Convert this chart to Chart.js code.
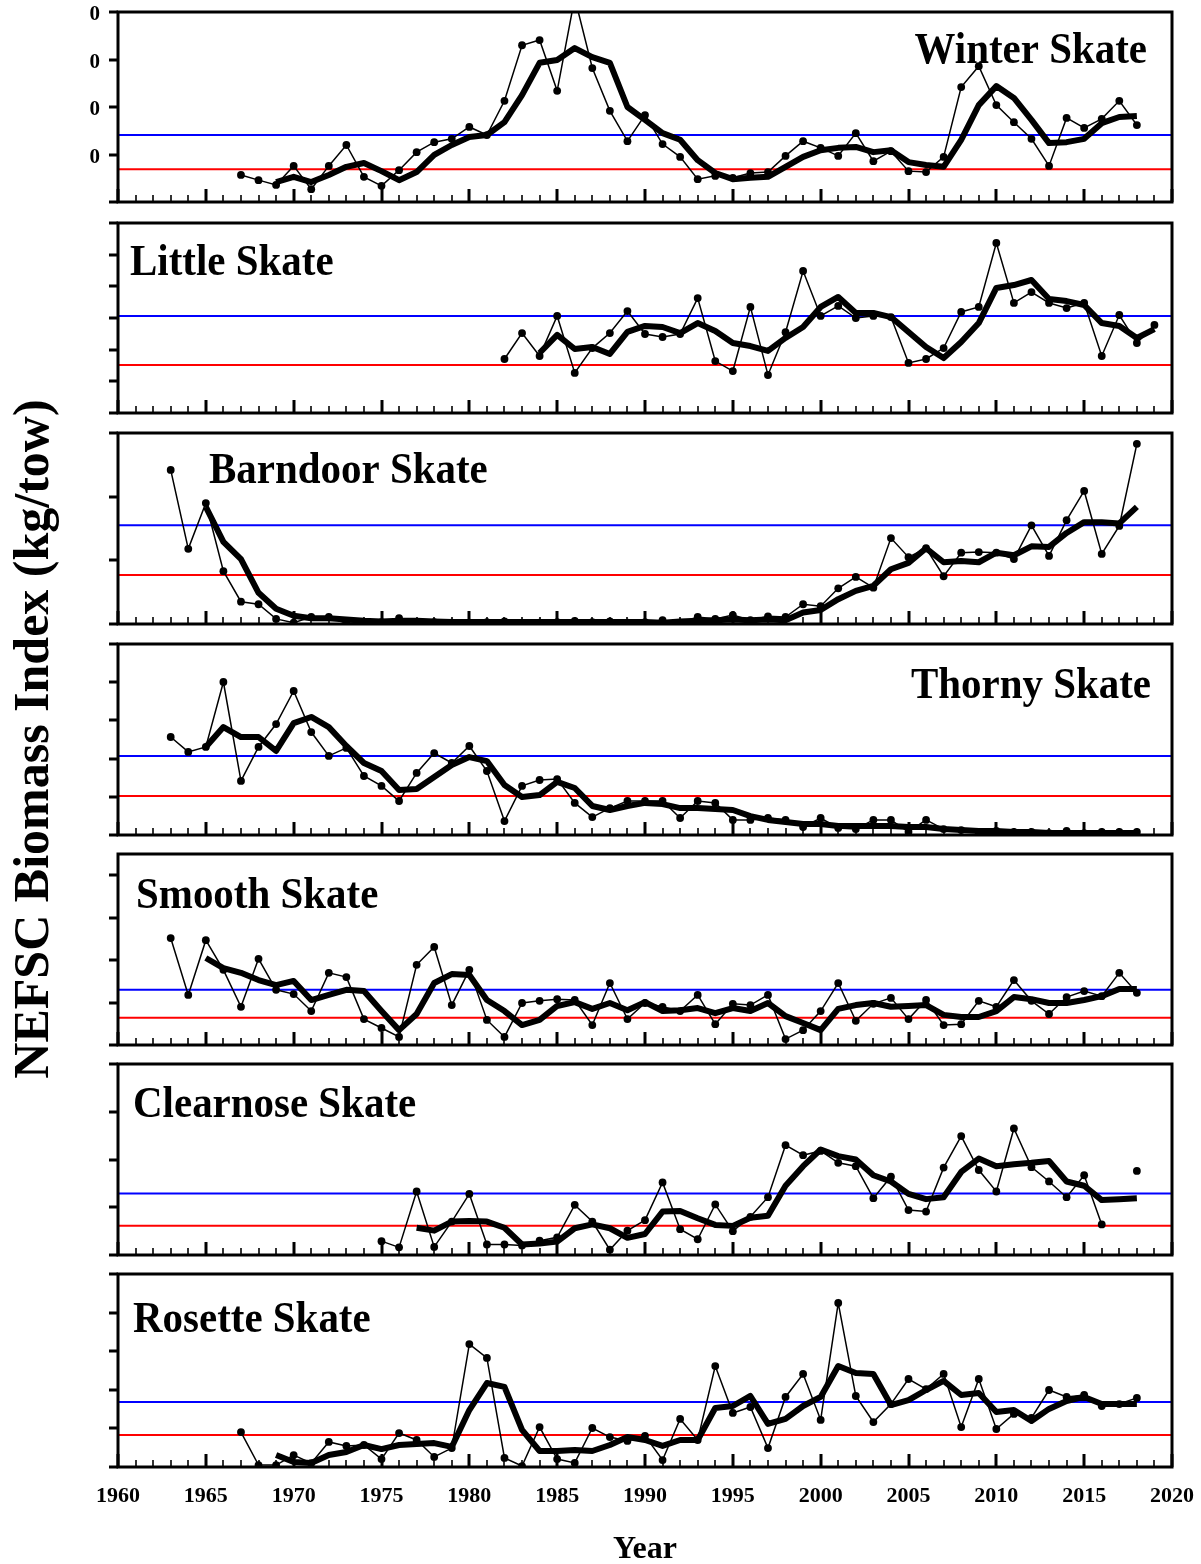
<!DOCTYPE html>
<html>
<head>
<meta charset="utf-8">
<title>NEFSC skate biomass indices</title>
<script src="https://cdn.jsdelivr.net/npm/chart.js@4.4.1/dist/chart.umd.min.js"></script>
<style>
  html, body { margin: 0; padding: 0; background: #fff; }
  #page { position: relative; width: 1201px; height: 1564px; overflow: hidden; background: #fff; }
  #page canvas { position: absolute; left: 0; }
  #ytitle {
    position: absolute; left: 31px; top: 739px;
    transform: translate(-50%, -50%) rotate(-90deg);
    font: bold 50px "Liberation Serif", "Times New Roman", serif;
    white-space: nowrap; color: #000;
  }
</style>
</head>
<body>
<div id="page">
  <div id="ytitle">NEFSC Biomass Index (kg/tow)</div>
</div>
<script>
// Survey years shared by every series (1963-2019)
const years = [
  1963, 1964, 1965, 1966, 1967, 1968, 1969,
  1970, 1971, 1972, 1973, 1974, 1975, 1976, 1977, 1978, 1979,
  1980, 1981, 1982, 1983, 1984, 1985, 1986, 1987, 1988, 1989,
  1990, 1991, 1992, 1993, 1994, 1995, 1996, 1997, 1998, 1999,
  2000, 2001, 2002, 2003, 2004, 2005, 2006, 2007, 2008, 2009,
  2010, 2011, 2012, 2013, 2014, 2015, 2016, 2017, 2018, 2019
];

const speciesNames = ['Winter Skate', 'Little Skate', 'Barndoor Skate', 'Thorny Skate',
                      'Smooth Skate', 'Clearnose Skate', 'Rosette Skate'];

// Annual index (thin line with dots) and 3-year moving average (thick line), kg/tow
const winterIndex = [
  null, null, null, null, 5.7, 4.6, 3.6,
  7.6, 2.7, 7.6, 12.0, 5.3, 3.4, 6.7, 10.5, 12.6, 13.3,
  15.8, 14.1, 21.3, 33.0, 34.1, 23.4, 43.0, 28.2, 19.2, 12.8,
  18.3, 12.2, 9.5, 4.8, 5.5, 5.1, 6.1, 6.3, 9.7, 12.8,
  11.4, 9.7, 14.5, 8.6, 10.7, 6.5, 6.3, 9.5, 24.2, 28.6,
  20.4, 16.8, 13.3, 7.6, 17.7, 15.6, 17.5, 21.3, 16.2, null
];
const winterMean = [
  null, null, null, null, null, null, 4.2,
  5.3, 4.2, 5.7, 7.4, 8.2, 6.5, 4.6, 6.3, 9.9, 12.0,
  13.7, 14.1, 16.8, 22.5, 29.3, 29.9, 32.4, 30.5, 29.3, 20.0,
  17.3, 14.5, 13.1, 8.8, 6.1, 4.8, 5.1, 5.3, 7.4, 9.5,
  10.9, 11.4, 11.6, 10.5, 10.9, 8.4, 7.8, 7.4, 13.1, 20.4,
  24.4, 21.9, 17.3, 12.4, 12.6, 13.3, 16.6, 17.9, 18.1, null
];

const littleIndex = [
  null, null, null, null, null, null, null,
  null, null, null, null, null, null, null, null, null, null,
  null, null, 3.41, 5.05, 3.60, 6.13, 2.53, 4.10, 5.05, 6.44,
  4.99, 4.80, 4.99, 7.26, 3.28, 2.65, 6.70, 2.40, 5.10, 8.97,
  6.13, 6.76, 6.00, 6.13, 6.06, 3.16, 3.41, 4.10, 6.38, 6.70,
  10.74, 6.95, 7.64, 6.95, 6.63, 6.95, 3.60, 6.19, 4.42, 5.56
];
const littleMean = [
  null, null, null, null, null, null, null,
  null, null, null, null, null, null, null, null, null, null,
  null, null, null, null, 3.79, 4.93, 4.04, 4.17, 3.73, 5.12,
  5.50, 5.43, 5.05, 5.68, 5.18, 4.42, 4.23, 3.92, 4.74, 5.43,
  6.70, 7.33, 6.32, 6.32, 6.06, 5.12, 4.17, 3.47, 4.48, 5.68,
  7.90, 8.08, 8.40, 7.20, 7.07, 6.82, 5.68, 5.50, 4.74, 5.30
];

const barndoorIndex = [
  2.42, 1.18, 1.90, 0.83, 0.35, 0.31, 0.08,
  0.02, 0.11, 0.11, 0.01, 0.01, 0.03, 0.09, 0.03, 0.03, 0.02,
  0.02, 0.03, 0.04, 0.01, 0.02, 0.03, 0.05, 0.03, 0.04, 0.02,
  0.03, 0.06, 0.02, 0.11, 0.08, 0.14, 0.06, 0.12, 0.11, 0.31,
  0.28, 0.56, 0.74, 0.57, 1.35, 1.05, 1.19, 0.75, 1.12, 1.13,
  1.12, 1.02, 1.55, 1.07, 1.63, 2.09, 1.10, 1.54, 2.83, null
];
const barndoorMean = [
  null, null, 1.84, 1.29, 1.02, 0.49, 0.24,
  0.13, 0.09, 0.09, 0.07, 0.05, 0.04, 0.05, 0.05, 0.04, 0.03,
  0.03, 0.03, 0.03, 0.03, 0.03, 0.03, 0.03, 0.03, 0.03, 0.03,
  0.03, 0.02, 0.04, 0.05, 0.06, 0.07, 0.06, 0.07, 0.06, 0.18,
  0.22, 0.39, 0.52, 0.60, 0.86, 0.96, 1.19, 0.97, 0.99, 0.97,
  1.12, 1.08, 1.22, 1.21, 1.43, 1.60, 1.60, 1.58, 1.84, null
];

const thornyIndex = [
  5.13, 4.35, 4.61, 8.01, 2.83, 4.61, 5.81,
  7.54, 5.39, 4.14, 4.56, 3.09, 2.57, 1.78, 3.25, 4.29, 3.77,
  4.66, 3.35, 0.73, 2.57, 2.88, 2.93, 1.68, 0.94, 1.41, 1.78,
  1.78, 1.78, 0.89, 1.78, 1.68, 0.79, 0.79, 0.89, 0.79, 0.42,
  0.89, 0.37, 0.31, 0.79, 0.79, 0.16, 0.79, 0.31, 0.26, 0.10,
  0.21, 0.16, 0.16, 0.10, 0.21, 0.10, 0.16, 0.16, 0.16, null
];
const thornyMean = [
  null, null, 4.61, 5.65, 5.13, 5.13, 4.40,
  5.86, 6.18, 5.65, 4.66, 3.77, 3.35, 2.36, 2.41, 3.04, 3.67,
  4.08, 3.87, 2.62, 1.99, 2.09, 2.78, 2.46, 1.52, 1.31, 1.52,
  1.68, 1.62, 1.41, 1.41, 1.36, 1.31, 0.99, 0.79, 0.68, 0.58,
  0.58, 0.47, 0.47, 0.47, 0.47, 0.42, 0.42, 0.31, 0.26, 0.21,
  0.21, 0.16, 0.16, 0.10, 0.10, 0.10, 0.10, 0.10, 0.10, null
];

const smoothIndex = [
  0.252, 0.118, 0.247, 0.177, 0.090, 0.203, 0.130,
  0.120, 0.080, 0.170, 0.160, 0.061, 0.040, 0.019, 0.189, 0.231, 0.094,
  0.177, 0.059, 0.019, 0.099, 0.104, 0.108, 0.106, 0.047, 0.146, 0.061,
  0.099, 0.090, 0.080, 0.118, 0.049, 0.097, 0.094, 0.118, 0.014, 0.035,
  0.080, 0.146, 0.057, 0.097, 0.111, 0.061, 0.106, 0.047, 0.049, 0.104,
  0.090, 0.153, 0.104, 0.073, 0.113, 0.127, 0.115, 0.170, 0.123, null
];
const smoothMean = [
  null, null, 0.205, 0.181, 0.170, 0.153, 0.141,
  0.151, 0.106, 0.118, 0.130, 0.127, 0.080, 0.035, 0.073, 0.146, 0.167,
  0.165, 0.106, 0.080, 0.047, 0.059, 0.092, 0.101, 0.085, 0.099, 0.082,
  0.101, 0.080, 0.082, 0.087, 0.075, 0.087, 0.080, 0.099, 0.068, 0.052,
  0.035, 0.085, 0.094, 0.099, 0.090, 0.092, 0.094, 0.071, 0.066, 0.066,
  0.080, 0.113, 0.108, 0.099, 0.099, 0.106, 0.115, 0.132, 0.132, null
];

const clearnoseIndex = [
  null, null, null, null, null, null, null,
  null, null, null, null, null, 0.29, 0.16, 1.33, 0.17, 0.70,
  1.28, 0.22, 0.22, 0.20, 0.30, 0.37, 1.05, 0.70, 0.11, 0.51,
  0.73, 1.52, 0.54, 0.33, 1.06, 0.50, 0.80, 1.21, 2.30, 2.09,
  2.18, 1.93, 1.86, 1.19, 1.64, 0.94, 0.91, 1.83, 2.49, 1.78,
  1.33, 2.65, 1.84, 1.54, 1.21, 1.67, 0.64, null, 1.76, null
];
const clearnoseMean = [
  null, null, null, null, null, null, null,
  null, null, null, null, null, null, null, 0.57, 0.51, 0.70,
  0.71, 0.70, 0.57, 0.22, 0.24, 0.28, 0.56, 0.64, 0.56, 0.36,
  0.44, 0.91, 0.92, 0.77, 0.63, 0.61, 0.78, 0.82, 1.45, 1.86,
  2.21, 2.07, 2.00, 1.67, 1.54, 1.28, 1.17, 1.21, 1.74, 2.02,
  1.86, 1.90, 1.93, 1.97, 1.54, 1.45, 1.15, 1.17, 1.19, null
];

const rosetteIndex = [
  null, null, null, null, 0.0181, 0.0010, 0.0010,
  0.0062, 0.0020, 0.0130, 0.0109, 0.0114, 0.0041, 0.0176, 0.0140, 0.0052, 0.0098,
  0.0637, 0.0565, 0.0047, 0.0005, 0.0207, 0.0041, 0.0021, 0.0202, 0.0155, 0.0135,
  0.0161, 0.0036, 0.0249, 0.0140, 0.0523, 0.0280, 0.0311, 0.0098, 0.0363, 0.0482,
  0.0244, 0.0850, 0.0368, 0.0233, 0.0326, 0.0456, 0.0404, 0.0482, 0.0207, 0.0456,
  0.0197, 0.0275, 0.0254, 0.0399, 0.0363, 0.0373, 0.0316, 0.0326, 0.0358, null
];
const rosetteMean = [
  null, null, null, null, null, null, 0.0062,
  0.0026, 0.0021, 0.0062, 0.0078, 0.0114, 0.0093, 0.0114, 0.0119, 0.0124, 0.0104,
  0.0295, 0.0435, 0.0415, 0.0192, 0.0083, 0.0083, 0.0088, 0.0083, 0.0114, 0.0155,
  0.0140, 0.0109, 0.0140, 0.0140, 0.0306, 0.0316, 0.0368, 0.0223, 0.0249, 0.0316,
  0.0363, 0.0523, 0.0487, 0.0482, 0.0321, 0.0347, 0.0399, 0.0446, 0.0373, 0.0383,
  0.0285, 0.0295, 0.0238, 0.0301, 0.0342, 0.0363, 0.0326, 0.0326, 0.0326, null
];

// Reference levels per species (blue = upper, red = lower)
const upperLevels = [14.1, 6.13, 1.55, 4.14, 0.130, 1.29, 0.0337];
const lowerLevels = [6.9, 3.03, 0.77, 2.04, 0.064, 0.61, 0.0166];

// Y-axis ranges and major tick spacing per species
const yMaxima = [40, 12, 3, 10, 0.45, 4, 0.10];
const yStepSizes = [10, 2, 1, 2, 0.1, 1, 0.02];

// Shared year axis
const xMin = 1960, xMax = 2020;
const xTickLabels = ['1960', '1965', '1970', '1975', '1980', '1985', '1990',
                     '1995', '2000', '2005', '2010', '2015', '2020'];
const winterTickLabels = ['0', '0', '0', '0'];

const indexSeries = [winterIndex, littleIndex, barndoorIndex, thornyIndex,
                     smoothIndex, clearnoseIndex, rosetteIndex];
const meanSeries = [winterMean, littleMean, barndoorMean, thornyMean,
                    smoothMean, clearnoseMean, rosetteMean];

// Page layout: plot frames (top/bottom in page pixels) and title placement
const PLOT_LEFT = 118, PLOT_RIGHT = 1172, PAGE_W = 1201, PAGE_H = 1564;
const frames = [
  { top: 12,   bottom: 202 },
  { top: 223,  bottom: 413 },
  { top: 433,  bottom: 624 },
  { top: 644,  bottom: 835 },
  { top: 854,  bottom: 1045 },
  { top: 1064, bottom: 1255 },
  { top: 1274, bottom: 1467 }
];
const titlePlacement = [
  { align: 'right', x: 1147, dy: 51 },
  { align: 'left',  x: 130,  dy: 52 },
  { align: 'left',  x: 209,  dy: 50 },
  { align: 'right', x: 1151, dy: 54 },
  { align: 'left',  x: 136,  dy: 54 },
  { align: 'left',  x: 133,  dy: 53 },
  { align: 'left',  x: 133,  dy: 58 }
];
const SERIF = '"Liberation Serif", "Times New Roman", serif';

function toPoints(values) {
  return years.map((yr, i) => ({ x: yr, y: values[i] }));
}

// Draws the frame, tick marks and text of one panel using the chart's scales
const panelDecor = {
  id: 'panelDecor',
  afterDatasetsDraw(chart, args, opts) {
    const { ctx, chartArea: a } = chart;
    const xs = chart.scales.x, ys = chart.scales.y;
    ctx.save();
    ctx.strokeStyle = '#000';
    ctx.fillStyle = '#000';
    ctx.lineCap = 'butt';

    // yearly ticks on the bottom axis, pointing into the plot
    for (let yr = xMin; yr <= xMax; yr++) {
      const px = Math.round(xs.getPixelForValue(yr));
      const major = yr % 5 === 0;
      ctx.lineWidth = major ? 3 : 1.6;
      ctx.beginPath();
      ctx.moveTo(px, a.bottom);
      ctx.lineTo(px, a.bottom - (major ? 13 : 7));
      ctx.stroke();
    }

    // value ticks on the left axis, pointing outwards
    ctx.lineWidth = 3;
    const step = opts.step, ymax = opts.ymax;
    for (let k = 0; k * step <= ymax + 1e-9; k++) {
      const py = Math.round(ys.getPixelForValue(k * step));
      ctx.beginPath();
      ctx.moveTo(a.left, py);
      ctx.lineTo(a.left - 9, py);
      ctx.stroke();
    }

    // frame
    ctx.lineWidth = 3;
    ctx.strokeRect(a.left, a.top, a.right - a.left, a.bottom - a.top);

    // species title
    const t = opts.title;
    ctx.font = 'bold 45px ' + SERIF;
    ctx.textBaseline = 'alphabetic';
    ctx.save();
    const squeeze = 0.91;
    ctx.scale(squeeze, 1);
    const w = ctx.measureText(t.text).width;
    const tx = t.align === 'right' ? t.x - w * squeeze : t.x;
    ctx.textAlign = 'left';
    ctx.fillText(t.text, tx / squeeze, a.top + t.dy);
    ctx.restore();

    // left tick labels (first panel only)
    if (opts.yLabels) {
      ctx.font = 'bold 21px ' + SERIF;
      ctx.textAlign = 'right';
      ctx.textBaseline = 'middle';
      opts.yLabels.forEach((lab, i) => {
        const v = ymax - i * step;
        ctx.fillText(lab, 100, ys.getPixelForValue(v) + 3);
      });
    }

    // year labels and axis title (bottom panel only)
    if (opts.xLabels) {
      ctx.font = 'bold 22px ' + SERIF;
      ctx.textAlign = 'center';
      ctx.textBaseline = 'alphabetic';
      opts.xLabels.forEach(lab => {
        ctx.fillText(lab, xs.getPixelForValue(Number(lab)), a.bottom + 35);
      });
      ctx.font = 'bold 32px ' + SERIF;
      ctx.fillText('Year', (a.left + a.right) / 2, a.bottom + 91);
    }
    ctx.restore();
  }
};

const page = document.getElementById('page');
frames.forEach((f, i) => {
  const last = i === frames.length - 1;
  const canvasTop = Math.max(0, f.top - 12);
  const padTop = f.top - canvasTop;
  const canvasBottom = last ? PAGE_H : f.bottom + 12;
  const canvas = document.createElement('canvas');
  canvas.width = PAGE_W;
  canvas.height = canvasBottom - canvasTop;
  canvas.style.top = canvasTop + 'px';
  canvas.style.width = PAGE_W + 'px';
  canvas.style.height = (canvasBottom - canvasTop) + 'px';
  page.appendChild(canvas);

  new Chart(canvas, {
    type: 'line',
    data: {
      datasets: [
        {
          label: '3-year mean', data: toPoints(meanSeries[i]),
          borderColor: '#000', borderWidth: 6, pointRadius: 0,
          borderJoinStyle: 'round', spanGaps: false, clip: 0, order: 0
        },
        {
          label: 'Annual index', data: toPoints(indexSeries[i]),
          borderColor: '#000', borderWidth: 1.5, pointRadius: 3.9,
          pointBackgroundColor: '#000', pointBorderColor: '#000', pointBorderWidth: 0,
          spanGaps: false, clip: 0, order: 1
        },
        {
          label: 'Upper reference', data: [{ x: xMin, y: upperLevels[i] }, { x: xMax, y: upperLevels[i] }],
          borderColor: '#0000ff', borderWidth: 2, pointRadius: 0, clip: 0, order: 2
        },
        {
          label: 'Lower reference', data: [{ x: xMin, y: lowerLevels[i] }, { x: xMax, y: lowerLevels[i] }],
          borderColor: '#ff0000', borderWidth: 2, pointRadius: 0, clip: 0, order: 3
        }
      ]
    },
    options: {
      responsive: false,
      animation: false,
      devicePixelRatio: 1,
      events: [],
      layout: {
        padding: {
          left: PLOT_LEFT, right: PAGE_W - PLOT_RIGHT,
          top: padTop, bottom: canvasBottom - f.bottom
        }
      },
      elements: { line: { tension: 0 } },
      scales: {
        x: { type: 'linear', min: xMin, max: xMax, display: false },
        y: { type: 'linear', min: 0, max: yMaxima[i], display: false }
      },
      plugins: {
        legend: { display: false },
        tooltip: { enabled: false },
        panelDecor: {
          step: yStepSizes[i],
          ymax: yMaxima[i],
          title: Object.assign({ text: speciesNames[i] }, titlePlacement[i]),
          yLabels: i === 0 ? winterTickLabels : null,
          xLabels: last ? xTickLabels : null
        }
      }
    },
    plugins: [panelDecor]
  });
});
</script>
</body>
</html>
